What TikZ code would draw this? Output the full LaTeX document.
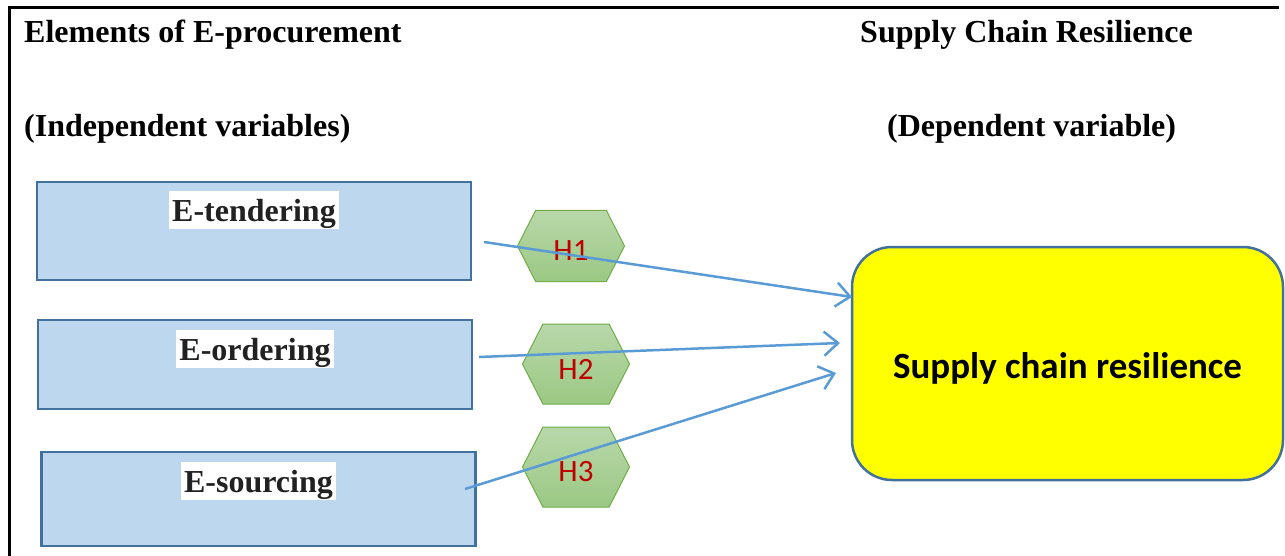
\documentclass[tikz,border=0pt]{standalone}
\usepackage{fontspec}
\setmainfont{Liberation Serif}
\newfontfamily\calfont{Carlito}
\usepackage{tikz}
\usetikzlibrary{shapes.symbols,arrows.meta,positioning}
\definecolor{varfill}{HTML}{BDD7EE}
\definecolor{varedge}{HTML}{41719C}
\definecolor{hypedge}{HTML}{70AD47}
\definecolor{hyptop}{HTML}{B8D8AA}
\definecolor{hypbottom}{HTML}{9BC884}
\definecolor{hypred}{HTML}{C00000}
\definecolor{dvyellow}{HTML}{FFFF00}
\definecolor{arrowblue}{HTML}{5B9BD5}

\begin{document}
\begin{tikzpicture}[
    x=1pt, y=-1pt,
    title/.style={anchor=base west, inner sep=0pt, font=\fontsize{32}{36}\selectfont\bfseries},
    var/.style={rectangle, draw=varedge, line width=2.5pt, fill=varfill, minimum width=434pt},
    varname/.style={fill=white, inner xsep=3pt, inner ysep=0.5pt, text height=30pt, text depth=7pt, text=black!87, font=\fontsize{32}{36}\selectfont\bfseries},
    hyp/.style={signal, signal to=east and west, signal pointer angle=126, draw=hypedge, line width=1pt, top color=hyptop, bottom color=hypbottom, minimum width=107pt, inner sep=0pt, text height=30pt, text=hypred, font=\calfont\fontsize{31}{32}\selectfont},
    dv/.style={rectangle, rounded corners=40pt, draw=varedge, line width=2.5pt, fill=dvyellow, minimum width=431pt, minimum height=233pt, text height=39pt, text depth=9pt, font=\calfont\bfseries\fontsize{37}{40}\selectfont},
    arrow/.style={line width=2.5pt, draw=arrowblue, -{Straight Barb[length=14pt, width=24pt]}}
]
\useasboundingbox (0,0) rectangle (1285,556);

% Frame
\draw[line width=3pt] (9,556) -- (9,8) -- (1279,8);

% Headings
\node[title] (ivhead) at (24,43) {Elements of E-procurement};
\node[title] (ivsub) at (24,137) {(Independent variables)};
\node[title] (dvhead) at (860,43) {Supply Chain Resilience};
\node[title] (dvsub) at (887,137) {(Dependent variable)};

% Independent variables
\node[var, minimum height=98pt] (tender) at (254,231) {};
\node[varname, below=10pt of tender.north] (tendername) {E-tendering};
\node[var, minimum height=89pt] (order) at (255,364.5) {};
\node[varname, below=11pt of order.north] (ordername) {E-ordering};
\node[var, minimum height=94pt] (source) at (258.5,499) {};
\node[varname, below=11pt of source.north] (sourcename) {E-sourcing};

% Hypotheses
\node[hyp, minimum height=71pt] (h1) at (571,246) {H1};
\node[hyp, minimum height=80pt] (h2) at (576,364) {H2};
\node[hyp, minimum height=80pt] (h3) at (576,467) {H3};

% Dependent variable
\node[dv] (scr) at (1067.5,363.5) {Supply chain resilience};

% Paths
\coordinate (s1) at (484,242);
\coordinate (e1) at (852,297);
\coordinate (s2) at (479,357);
\coordinate (e2) at (840,343);
\coordinate (s3) at (465,489);
\coordinate (e3) at (836,373);
\draw[arrow] (s1) -- (e1);
\draw[arrow] (s2) -- (e2);
\draw[arrow] (s3) -- (e3);

\end{tikzpicture}
\end{document}
